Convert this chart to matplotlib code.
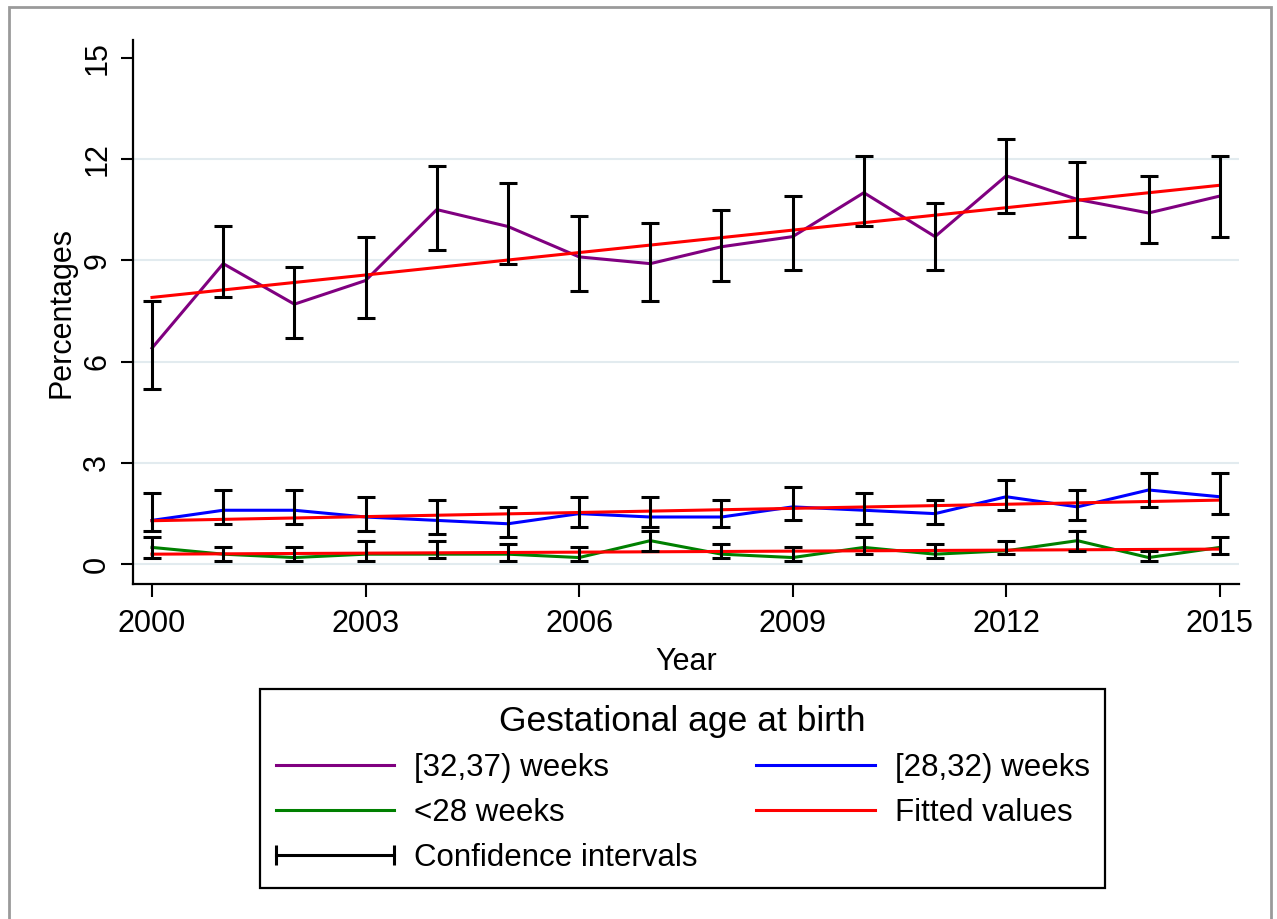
import matplotlib
matplotlib.use('Agg')
from matplotlib import pyplot as plt
from matplotlib.lines import Line2D
from matplotlib.patches import Rectangle
from matplotlib.legend_handler import HandlerLine2D
import numpy as np

plt.rcParams['font.family'] = ['Liberation Sans', 'DejaVu Sans']

# years
years = list(range(2000, 2016))

# [32,37) weeks
p_32_37 = [6.4, 8.9, 7.7, 8.4, 10.5, 10.0, 9.1, 8.9, 9.4, 9.7, 11.0, 9.7, 11.5, 10.8, 10.4, 10.9]
lo_32_37 = [5.2, 7.9, 6.7, 7.3, 9.3, 8.9, 8.1, 7.8, 8.4, 8.7, 10.0, 8.7, 10.4, 9.7, 9.5, 9.7]
hi_32_37 = [7.8, 10.0, 8.8, 9.7, 11.8, 11.3, 10.3, 10.1, 10.5, 10.9, 12.1, 10.7, 12.6, 11.9, 11.5, 12.1]

# [28,32) weeks
p_28_32 = [1.3, 1.6, 1.6, 1.4, 1.3, 1.2, 1.5, 1.4, 1.4, 1.7, 1.6, 1.5, 2.0, 1.7, 2.2, 2.0]
lo_28_32 = [1.0, 1.2, 1.2, 1.0, 0.9, 0.8, 1.1, 1.1, 1.1, 1.3, 1.2, 1.2, 1.6, 1.3, 1.7, 1.5]
hi_28_32 = [2.1, 2.2, 2.2, 2.0, 1.9, 1.7, 2.0, 2.0, 1.9, 2.3, 2.1, 1.9, 2.5, 2.2, 2.7, 2.7]

# <28 weeks
p_lt28 = [0.5, 0.3, 0.2, 0.3, 0.3, 0.3, 0.2, 0.7, 0.3, 0.2, 0.5, 0.3, 0.4, 0.7, 0.2, 0.5]
lo_lt28 = [0.2, 0.1, 0.1, 0.1, 0.2, 0.1, 0.1, 0.4, 0.2, 0.1, 0.3, 0.2, 0.3, 0.4, 0.1, 0.3]
hi_lt28 = [0.8, 0.5, 0.5, 0.7, 0.7, 0.6, 0.5, 1.0, 0.6, 0.5, 0.8, 0.6, 0.7, 1.0, 0.4, 0.8]

# fitted lines (values at 2000 and 2015)
fit_years = [2000, 2015]
fit_32_37 = [7.9, 11.22]
fit_28_32 = [1.29, 1.9]
fit_lt28 = [0.3, 0.45]

fig = plt.figure(figsize=(12.77, 9.19), dpi=100)
ax = fig.add_axes([133 / 1277, 1 - 584 / 919, (1239 - 133) / 1277, (584 - 40) / 919])

# outer frame
fig.patches.append(Rectangle((9 / 1277, -0.05), (1271 - 9) / 1277, 1.05 - 7 / 919,
                             transform=fig.transFigure, fill=False,
                             edgecolor='#9a9a9a', linewidth=2, clip_on=False))

lw = 2.2
ax.plot(years, p_32_37, color='#800080', lw=lw, zorder=3)
ax.plot(years, p_28_32, color='#0000ff', lw=lw, zorder=3)
ax.plot(years, p_lt28, color='#008000', lw=lw, zorder=3)
for f in (fit_32_37, fit_28_32, fit_lt28):
    ax.plot(fit_years, f, color='#ff0000', lw=lw, zorder=4)

for p, lo, hi in ((p_32_37, lo_32_37, hi_32_37),
                  (p_28_32, lo_28_32, hi_28_32),
                  (p_lt28, lo_lt28, hi_lt28)):
    p = np.array(p)
    err = [p - np.array(lo), np.array(hi) - p]
    ax.errorbar(years, p, yerr=err, fmt='none', ecolor='black',
                elinewidth=2.2, capsize=6.5, capthick=2.2, zorder=5)

ax.set_xlim(1999.733, 2015.27)
ax.set_ylim(-0.583, 15.52)
ax.set_xticks([2000, 2003, 2006, 2009, 2012, 2015])
ax.set_yticks([0, 3, 6, 9, 12, 15])

ax.spines['top'].set_visible(False)
ax.spines['right'].set_visible(False)
ax.spines['left'].set_linewidth(1.6)
ax.spines['bottom'].set_linewidth(1.6)
ax.tick_params(length=9, width=1.5, labelsize=22)
ax.tick_params(axis='x', pad=9)
ax.tick_params(axis='y', pad=6)
for t in ax.get_yticklabels():
    t.set_rotation(90)
    t.set_va('center')

ax.grid(axis='y', color='#e2ebef', linewidth=1.5)
ax.set_axisbelow(True)
ax.get_ygridlines()[-1].set_visible(False)

ax.set_xlabel('Year', fontsize=22, labelpad=6)
ax.set_ylabel('Percentages', fontsize=22, labelpad=4)

handles = [
    Line2D([], [], color='#800080', lw=lw),
    Line2D([], [], color='#008000', lw=lw),
    Line2D([], [], color='black', lw=lw, marker='|', markersize=14, markeredgewidth=2.2),
    Line2D([], [], color='#0000ff', lw=lw),
    Line2D([], [], color='#ff0000', lw=lw),
]
labels = ['[32,37) weeks', '<28 weeks', 'Confidence intervals',
          '[28,32) weeks', 'Fitted values']
leg = fig.legend(handles, labels, ncol=2, loc='upper left',
                 bbox_to_anchor=(260 / 1277, 1 - 689 / 919),
                 bbox_transform=fig.transFigure, borderaxespad=0,
                 title='Gestational age at birth', title_fontsize=25.5,
                 fontsize=22.5, handlelength=3.8,
                 handler_map={Line2D: HandlerLine2D(marker_pad=0, numpoints=2)},
                 handletextpad=0.64, columnspacing=1.86, labelspacing=0.48,
                 borderpad=0.5, fancybox=False, framealpha=1,
                 edgecolor='black')
leg.get_frame().set_linewidth(1.6)

plt.savefig('out.png', dpi=100)
